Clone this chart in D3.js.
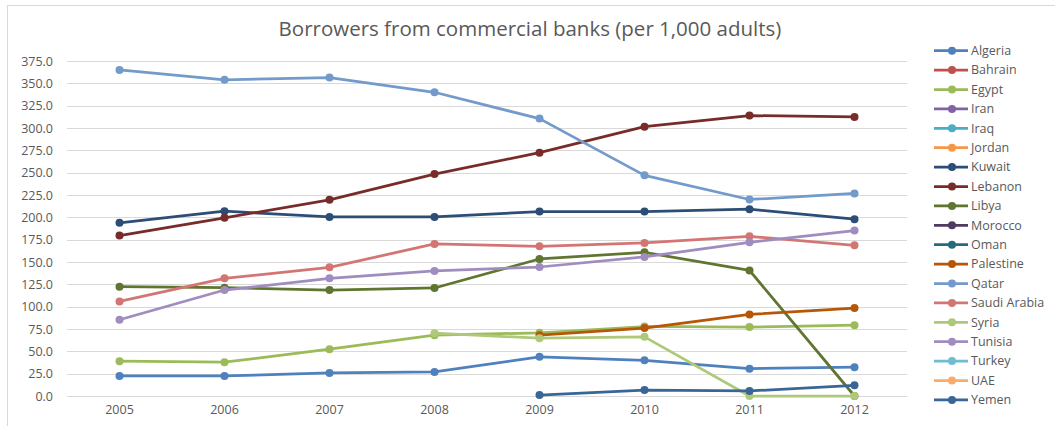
<!DOCTYPE html>
<html lang="en">
  <head>
    <meta charset="UTF-8" />
    <title>Borrowers from commercial banks</title>
    <script src="https://d3js.org/d3.v7.min.js"></script>
    <style>
      body { margin: 0; background: #fff; }
      text { font-family: "Open Sans", "Liberation Sans", sans-serif; }
    </style>
  </head>
  <body>
    <svg width="1055" height="426"></svg>
    <script>
      let years = ["2005", "2006", "2007", "2008", "2009", "2010", "2011", "2012"];
      let yTicks = [0, 25, 50, 75, 100, 125, 150, 175, 200, 225, 250, 275, 300, 325, 350, 375];

      // one array per country, null = no data
      let algeria = [22.4, 22.4, 25.8, 26.9, 43.8, 40.0, 30.6, 32.2];
      let bahrain = [null, null, null, null, null, null, null, null];
      let egypt = [38.9, 37.8, 52.4, 68.1, 70.7, 77.8, 77.1, 79.3];
      let iran = [null, null, null, null, null, null, null, null];
      let iraq = [null, null, null, null, null, null, null, null];
      let jordan = [null, null, null, null, null, null, null, null];
      let kuwait = [193.8, 206.9, 200.5, 200.5, 206.5, 206.5, 209.1, 197.9];
      let lebanon = [179.6, 199.4, 219.6, 248.4, 272.4, 301.5, 313.9, 312.4];
      let libya = [122.3, 121.2, 118.6, 120.9, 153.4, 160.8, 140.6, 0];
      let morocco = [null, null, null, null, null, null, null, null];
      let oman = [null, null, null, null, null, null, null, null];
      let palestine = [null, null, null, null, 68.1, 76.0, 91.3, 98.4];
      let qatar = [365.0, 354.0, 356.5, 340.0, 310.5, 247.0, 220.0, 226.7];
      let saudiArabia = [105.9, 131.7, 144.0, 170.2, 167.6, 171.3, 178.8, 168.7];
      let syria = [null, null, null, 70.3, 64.7, 66.2, 0, 0];
      let tunisia = [85.3, 118.6, 131.7, 140.0, 144.4, 155.7, 172.0, 185.2];
      let turkey = [null, null, null, null, null, null, null, null];
      let uae = [null, null, null, null, null, null, null, null];
      let yemen = [null, null, null, null, 1.1, 6.7, 5.6, 12.0];

      let series = [
        { name: "Algeria", values: algeria, color: "#4f81bd" },
        { name: "Bahrain", values: bahrain, color: "#c0504d" },
        { name: "Egypt", values: egypt, color: "#9bbb59" },
        { name: "Iran", values: iran, color: "#8064a2" },
        { name: "Iraq", values: iraq, color: "#4bacc6" },
        { name: "Jordan", values: jordan, color: "#f79646" },
        { name: "Kuwait", values: kuwait, color: "#2c4d75" },
        { name: "Lebanon", values: lebanon, color: "#772c2a" },
        { name: "Libya", values: libya, color: "#5f7530" },
        { name: "Morocco", values: morocco, color: "#4d3b62" },
        { name: "Oman", values: oman, color: "#276a7c" },
        { name: "Palestine", values: palestine, color: "#b65708" },
        { name: "Qatar", values: qatar, color: "#729aca" },
        { name: "Saudi Arabia", values: saudiArabia, color: "#d37573" },
        { name: "Syria", values: syria, color: "#afc97a" },
        { name: "Tunisia", values: tunisia, color: "#a08cbf" },
        { name: "Turkey", values: turkey, color: "#6fbdd1" },
        { name: "UAE", values: uae, color: "#f9ab6b" },
        { name: "Yemen", values: yemen, color: "#3a6597" },
      ];

      let svg = d3.select("svg");
      let plot = { left: 67, right: 907, top: 61, bottom: 396 };

      // outer chart border
      svg.append("rect")
        .attr("x", 7.5).attr("y", 5.5)
        .attr("width", 1060).attr("height", 440)
        .attr("fill", "none").attr("stroke", "#d9d9d9");

      let x = d3.scaleBand().domain(years).range([plot.left, plot.right]);
      let y = d3.scaleLinear().domain([0, 375]).range([plot.bottom, plot.top]);

      // gridlines
      svg.append("g")
        .selectAll("line")
        .data(yTicks)
        .enter()
        .append("line")
        .attr("x1", plot.left).attr("x2", plot.right)
        .attr("y1", (d) => Math.round(y(d)) + 0.5)
        .attr("y2", (d) => Math.round(y(d)) + 0.5)
        .attr("stroke", "#d9d9d9");

      let yAxis = svg.append("g")
        .attr("transform", "translate(" + plot.left + ",0)")
        .call(d3.axisLeft(y).tickValues(yTicks).tickFormat(d3.format(".1f")).tickSize(0).tickPadding(14));
      yAxis.select(".domain").remove();
      yAxis.selectAll("text").attr("font-size", 12.5).attr("fill", "#595959")
        .style("font-family", "'Open Sans', sans-serif");

      let xAxis = svg.append("g")
        .attr("transform", "translate(0," + plot.bottom + ")")
        .call(d3.axisBottom(x).tickSize(0).tickPadding(9));
      xAxis.select(".domain").remove();
      xAxis.selectAll("text").attr("font-size", 12.5).attr("fill", "#595959")
        .style("font-family", "'Open Sans', sans-serif");

      let line = d3.line()
        .defined((d) => d != null)
        .x((d, i) => x(years[i]) + x.bandwidth() / 2)
        .y((d) => y(d));

      let lines = svg.append("g");
      series.forEach((s) => {
        lines.append("path")
          .datum(s.values)
          .attr("d", line)
          .attr("fill", "none")
          .attr("stroke", s.color)
          .attr("stroke-width", 2.75)
          .attr("stroke-linejoin", "round");
        lines.selectAll(null)
          .data(s.values.map((v, i) => ({ v: v, i: i })).filter((d) => d.v != null))
          .enter()
          .append("circle")
          .attr("cx", (d) => x(years[d.i]) + x.bandwidth() / 2)
          .attr("cy", (d) => y(d.v))
          .attr("r", 4)
          .attr("fill", s.color);
      });

      // title
      svg.append("text")
        .attr("x", 530).attr("y", 36)
        .attr("text-anchor", "middle")
        .attr("font-size", 20.5)
        .attr("fill", "#595959")
        .text("Borrowers from commercial banks (per 1,000 adults)");

      // legend
      let legend = svg.append("g")
        .selectAll("g")
        .data(series)
        .enter()
        .append("g")
        .attr("transform", (d, i) => "translate(934," + (50.7 + i * 19.4) + ")");
      legend.append("line")
        .attr("x1", 0).attr("x2", 34)
        .attr("stroke", (d) => d.color)
        .attr("stroke-width", 2.75);
      legend.append("circle")
        .attr("cx", 18).attr("r", 4)
        .attr("fill", (d) => d.color);
      legend.append("text")
        .attr("x", 37).attr("dy", "0.35em")
        .attr("font-size", 12.5)
        .attr("fill", "#595959")
        .text((d) => d.name);
    </script>
  </body>
</html>
